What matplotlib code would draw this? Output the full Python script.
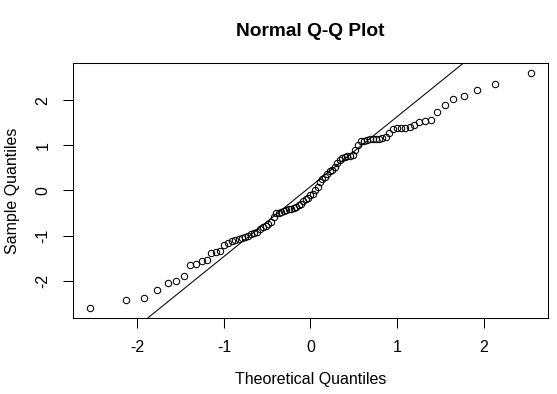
import matplotlib
matplotlib.use("Agg")
import matplotlib.pyplot as plt
import numpy as np
from statistics import NormalDist

plt.rcParams['font.family'] = ['Liberation Sans', 'DejaVu Sans']
plt.rcParams['axes.unicode_minus'] = False

# sorted sample values (n = 91)
sample = [
    -2.613, -2.436, -2.391, -2.207, -2.051, -2.007, -1.896, -1.658, -1.636, -1.562,
    -1.540, -1.384, -1.362, -1.347, -1.207, -1.156, -1.118, -1.100, -1.080, -1.060,
    -1.030, -1.000, -0.970, -0.950, -0.930, -0.860, -0.800, -0.780, -0.750, -0.710,
    -0.600, -0.510, -0.490, -0.470, -0.450, -0.430, -0.420, -0.410, -0.390, -0.370,
    -0.330, -0.290, -0.240, -0.200, -0.170, -0.110, -0.070, 0.000, 0.080, 0.180,
    0.250, 0.300, 0.360, 0.420, 0.460, 0.520, 0.610, 0.680, 0.720, 0.740,
    0.760, 0.770, 0.780, 0.904, 1.016, 1.089, 1.100, 1.127, 1.135, 1.142,
    1.142, 1.150, 1.164, 1.187, 1.276, 1.364, 1.380, 1.387, 1.387, 1.400,
    1.460, 1.511, 1.533, 1.571, 1.733, 1.904, 2.031, 2.104, 2.216, 2.349,
    2.609,
]
x_ticks = [-2, -1, 0, 1, 2]
y_ticks = [-2, -1, 0, 1, 2]

# theoretical quantiles as in R's qqnorm: qnorm(ppoints(n))
y = np.sort(np.array(sample))
n = len(y)
nd = NormalDist()
x = np.array([nd.inv_cdf((i - 0.5) / n) for i in range(1, n + 1)])

# qqline through the quartiles
q1, q3 = np.quantile(y, [0.25, 0.75])
t1, t3 = nd.inv_cdf(0.25), nd.inv_cdf(0.75)
slope = (q3 - q1) / (t3 - t1)
icpt = q1 - slope * t1

fig = plt.figure(figsize=(5.57, 3.94), dpi=100)
ax = fig.add_axes([0.1305, 0.1936, 0.8539, 0.6457])

ax.plot(x, y, linestyle='none', marker='o', markersize=4.6,
        markerfacecolor='none', markeredgecolor='black', markeredgewidth=0.75)
ax.axline((0, icpt), slope=slope, color='black', linewidth=0.75)

# R style 4% axis extension
def ext(v):
    lo, hi = v.min(), v.max()
    d = (hi - lo) * 0.04
    return lo - d, hi + d

ax.set_xlim(*ext(x))
ax.set_ylim(*ext(y))

ax.set_xticks(x_ticks)
ax.set_yticks(y_ticks)
ax.set_xticklabels([str(t) for t in x_ticks])
ax.set_yticklabels([str(t) for t in y_ticks], rotation=90, va='center')
ax.tick_params(axis='both', direction='out', length=7, width=0.75,
               labelsize=11.5, colors='black')
ax.tick_params(axis='x', pad=9)
ax.tick_params(axis='y', pad=9)
for s in ax.spines.values():
    s.set_linewidth(0.75)

ax.set_xlabel("Theoretical Quantiles", fontsize=11.5, labelpad=12)
ax.set_ylabel("Sample Quantiles", fontsize=11.5, labelpad=11)
ax.set_title("Normal Q-Q Plot", fontsize=13.8, fontweight='bold', pad=20)

fig.savefig("out.png", dpi=100)
